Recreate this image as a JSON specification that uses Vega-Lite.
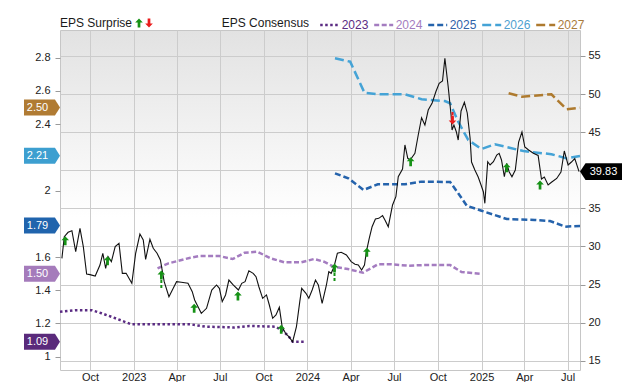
{
  "$schema": "https://vega.github.io/schema/vega-lite/v6.json",
  "width": 520,
  "height": 340,
  "autosize": "none",
  "padding": {"left": 60, "top": 30, "right": 60, "bottom": 12},
  "background": "#ffffff",
  "config": {
    "font": "Liberation Sans",
    "view": {
      "stroke": "#c6c6c6",
      "strokeWidth": 1,
      "fill": {"gradient": "linear", "x1": 0, "y1": 0, "x2": 0, "y2": 1,
        "stops": [{"offset": 0, "color": "#e2e2e2"}, {"offset": 0.55, "color": "#ffffff"}, {"offset": 1, "color": "#ffffff"}]}
    },
    "axis": {"labelFont": "Liberation Sans", "labelFontSize": 11, "labelColor": "#222222", "title": null, "domain": false, "tickColor": "#9a9a9a", "gridColor": "#cccccc", "gridWidth": 1},
    "legend": {"labelFont": "Liberation Sans", "titleFont": "Liberation Sans", "padding": 0, "symbolLimit": 0}
  },
  "datasets": {
    "price": [
      {"date":"2022-08-03","price":28.44},{"date":"2022-08-08","price":31.28},{"date":"2022-08-16","price":31.86},{"date":"2022-08-24","price":32.07},
      {"date":"2022-09-01","price":29.31},{"date":"2022-09-10","price":32.38},{"date":"2022-09-17","price":29.97},{"date":"2022-09-24","price":26.38},
      {"date":"2022-10-01","price":26.30},{"date":"2022-10-12","price":26.12},{"date":"2022-10-22","price":27.56},{"date":"2022-10-28","price":29.10},
      {"date":"2022-11-03","price":27.13},{"date":"2022-11-08","price":28.65},{"date":"2022-11-15","price":28.00},{"date":"2022-11-23","price":29.97},
      {"date":"2022-12-01","price":30.41},{"date":"2022-12-08","price":26.47},{"date":"2022-12-16","price":26.47},{"date":"2022-12-28","price":25.16},
      {"date":"2023-01-05","price":29.10},{"date":"2023-01-14","price":31.63},{"date":"2023-01-21","price":30.85},{"date":"2023-01-26","price":28.31},
      {"date":"2023-02-04","price":30.94},{"date":"2023-02-11","price":29.76},{"date":"2023-02-19","price":29.10},{"date":"2023-02-26","price":28.22},
      {"date":"2023-03-06","price":25.37},{"date":"2023-03-16","price":23.40},{"date":"2023-03-25","price":24.50},{"date":"2023-04-01","price":25.37},
      {"date":"2023-04-11","price":25.29},{"date":"2023-04-25","price":25.16},{"date":"2023-05-04","price":24.06},{"date":"2023-05-09","price":22.97},
      {"date":"2023-05-23","price":21.22},{"date":"2023-06-03","price":21.88},{"date":"2023-06-14","price":24.28},{"date":"2023-06-24","price":24.94},
      {"date":"2023-06-30","price":24.50},{"date":"2023-07-06","price":22.75},{"date":"2023-07-13","price":23.63},{"date":"2023-07-20","price":25.59},
      {"date":"2023-07-29","price":24.94},{"date":"2023-08-09","price":24.28},{"date":"2023-08-16","price":25.16},{"date":"2023-08-23","price":25.37},
      {"date":"2023-08-31","price":26.81},{"date":"2023-09-09","price":26.47},{"date":"2023-09-15","price":26.03},{"date":"2023-09-21","price":24.71},
      {"date":"2023-09-29","price":23.19},{"date":"2023-10-07","price":23.63},{"date":"2023-10-13","price":22.31},{"date":"2023-10-20","price":20.57},
      {"date":"2023-10-27","price":21.00},{"date":"2023-11-03","price":22.01},{"date":"2023-11-09","price":19.46},{"date":"2023-11-16","price":18.60},
      {"date":"2023-11-23","price":18.15},{"date":"2023-12-01","price":17.49},{"date":"2023-12-09","price":19.46},{"date":"2023-12-16","price":22.75},
      {"date":"2023-12-20","price":24.50},{"date":"2023-12-29","price":23.85},{"date":"2024-01-04","price":23.19},{"date":"2024-01-11","price":24.28},
      {"date":"2024-01-18","price":25.59},{"date":"2024-01-24","price":24.94},{"date":"2024-02-01","price":22.54},{"date":"2024-02-10","price":24.94},
      {"date":"2024-02-15","price":26.68},{"date":"2024-02-20","price":26.47},{"date":"2024-02-26","price":27.34},{"date":"2024-03-04","price":29.10},
      {"date":"2024-03-12","price":29.23},{"date":"2024-03-23","price":28.88},{"date":"2024-04-02","price":28.00},{"date":"2024-04-10","price":27.66},
      {"date":"2024-04-17","price":27.56},{"date":"2024-04-24","price":26.91},{"date":"2024-04-30","price":27.56},{"date":"2024-05-04","price":29.31},
      {"date":"2024-05-10","price":31.07},{"date":"2024-05-16","price":32.59},{"date":"2024-05-23","price":33.60},{"date":"2024-05-30","price":33.69},
      {"date":"2024-06-07","price":34.04},{"date":"2024-06-12","price":33.47},{"date":"2024-06-19","price":32.59},{"date":"2024-06-28","price":35.44},
      {"date":"2024-07-05","price":36.53},{"date":"2024-07-10","price":39.15},{"date":"2024-07-19","price":40.17},{"date":"2024-07-24","price":43.32},
      {"date":"2024-07-30","price":41.57},{"date":"2024-08-04","price":41.35},{"date":"2024-08-14","price":42.23},{"date":"2024-08-21","price":44.63},
      {"date":"2024-08-28","price":46.90},{"date":"2024-09-04","price":45.94},{"date":"2024-09-11","price":47.91},{"date":"2024-09-19","price":48.79},
      {"date":"2024-09-27","price":50.31},{"date":"2024-10-04","price":51.42},{"date":"2024-10-11","price":51.72},{"date":"2024-10-16","price":54.70},
      {"date":"2024-10-23","price":50.93},{"date":"2024-10-29","price":47.25},{"date":"2024-10-31","price":45.29},{"date":"2024-11-04","price":45.94},
      {"date":"2024-11-09","price":45.06},{"date":"2024-11-13","price":43.97},{"date":"2024-11-19","price":47.78},{"date":"2024-11-26","price":48.92},
      {"date":"2024-12-02","price":47.52},{"date":"2024-12-08","price":44.20},{"date":"2024-12-11","price":41.08},{"date":"2024-12-18","price":40.03},
      {"date":"2024-12-25","price":39.12},{"date":"2024-12-31","price":38.07},{"date":"2025-01-05","price":37.15},{"date":"2025-01-08","price":35.66},
      {"date":"2025-01-14","price":41.12},{"date":"2025-01-19","price":40.69},{"date":"2025-01-26","price":41.12},{"date":"2025-02-02","price":42.00},
      {"date":"2025-02-07","price":42.23},{"date":"2025-02-12","price":41.35},{"date":"2025-02-18","price":39.15},{"date":"2025-02-23","price":40.91},
      {"date":"2025-02-28","price":39.81},{"date":"2025-03-06","price":39.15},{"date":"2025-03-13","price":40.03},{"date":"2025-03-20","price":43.71},
      {"date":"2025-03-27","price":45.02},{"date":"2025-04-02","price":43.05},{"date":"2025-04-10","price":42.66},{"date":"2025-04-20","price":42.23},
      {"date":"2025-04-30","price":41.94},{"date":"2025-05-07","price":38.85},{"date":"2025-05-13","price":39.12},{"date":"2025-05-21","price":38.07},
      {"date":"2025-05-28","price":38.42},{"date":"2025-06-08","price":38.92},{"date":"2025-06-17","price":39.77},{"date":"2025-06-24","price":42.53},
      {"date":"2025-07-02","price":40.69},{"date":"2025-07-09","price":41.08},{"date":"2025-07-16","price":41.54},{"date":"2025-07-25","price":39.83}
    ],
    "consensus": [
      {"date":"2022-07-30","year":"2023","eps":1.27},{"date":"2022-09-01","year":"2023","eps":1.28},{"date":"2022-10-05","year":"2023","eps":1.28},
      {"date":"2022-10-25","year":"2023","eps":1.262},{"date":"2022-11-20","year":"2023","eps":1.235},{"date":"2022-12-27","year":"2023","eps":1.195},
      {"date":"2023-04-30","year":"2023","eps":1.195},{"date":"2023-06-01","year":"2023","eps":1.181},{"date":"2023-08-01","year":"2023","eps":1.176},
      {"date":"2023-09-01","year":"2023","eps":1.185},{"date":"2023-10-25","year":"2023","eps":1.181},{"date":"2023-11-08","year":"2023","eps":1.161},
      {"date":"2023-11-22","year":"2023","eps":1.125},{"date":"2023-12-01","year":"2023","eps":1.09},{"date":"2023-12-28","year":"2023","eps":1.09},
      {"date":"2023-02-20","year":"2024","eps":1.532},{"date":"2023-03-15","year":"2024","eps":1.562},{"date":"2023-04-30","year":"2024","eps":1.596},
      {"date":"2023-05-20","year":"2024","eps":1.606},{"date":"2023-06-30","year":"2024","eps":1.606},{"date":"2023-07-28","year":"2024","eps":1.588},
      {"date":"2023-08-22","year":"2024","eps":1.626},{"date":"2023-09-18","year":"2024","eps":1.632},{"date":"2023-10-16","year":"2024","eps":1.592},
      {"date":"2023-11-14","year":"2024","eps":1.568},{"date":"2023-12-18","year":"2024","eps":1.568},{"date":"2024-01-15","year":"2024","eps":1.588},
      {"date":"2024-02-05","year":"2024","eps":1.572},{"date":"2024-02-25","year":"2024","eps":1.542},{"date":"2024-03-26","year":"2024","eps":1.528},
      {"date":"2024-04-27","year":"2024","eps":1.506},{"date":"2024-05-28","year":"2024","eps":1.556},{"date":"2024-06-26","year":"2024","eps":1.556},
      {"date":"2024-08-01","year":"2024","eps":1.548},{"date":"2024-09-04","year":"2024","eps":1.552},{"date":"2024-10-27","year":"2024","eps":1.552},
      {"date":"2024-11-20","year":"2024","eps":1.51},{"date":"2024-12-28","year":"2024","eps":1.50},
      {"date":"2024-02-28","year":"2025","eps":2.104},{"date":"2024-03-27","year":"2025","eps":2.074},{"date":"2024-04-28","year":"2025","eps":2.004},
      {"date":"2024-05-28","year":"2025","eps":2.038},{"date":"2024-07-24","year":"2025","eps":2.038},{"date":"2024-08-28","year":"2025","eps":2.054},
      {"date":"2024-10-27","year":"2025","eps":2.052},{"date":"2024-11-13","year":"2025","eps":1.984},{"date":"2024-12-01","year":"2025","eps":1.909},
      {"date":"2025-01-01","year":"2025","eps":1.879},{"date":"2025-02-23","year":"2025","eps":1.829},{"date":"2025-04-23","year":"2025","eps":1.823},
      {"date":"2025-05-25","year":"2025","eps":1.817},{"date":"2025-06-26","year":"2025","eps":1.783},{"date":"2025-07-27","year":"2025","eps":1.787},
      {"date":"2024-02-28","year":"2026","eps":2.797},{"date":"2024-03-31","year":"2026","eps":2.776},{"date":"2024-04-30","year":"2026","eps":2.589},
      {"date":"2024-05-28","year":"2026","eps":2.58},{"date":"2024-07-24","year":"2026","eps":2.58},{"date":"2024-08-28","year":"2026","eps":2.55},
      {"date":"2024-10-16","year":"2026","eps":2.539},{"date":"2024-10-27","year":"2026","eps":2.526},{"date":"2024-11-13","year":"2026","eps":2.415},
      {"date":"2024-12-04","year":"2026","eps":2.305},{"date":"2025-01-01","year":"2026","eps":2.25},{"date":"2025-01-29","year":"2026","eps":2.279},
      {"date":"2025-03-30","year":"2026","eps":2.238},{"date":"2025-05-28","year":"2026","eps":2.219},{"date":"2025-06-29","year":"2026","eps":2.194},
      {"date":"2025-07-27","year":"2026","eps":2.208},
      {"date":"2025-02-27","year":"2027","eps":2.586},{"date":"2025-03-27","year":"2027","eps":2.565},{"date":"2025-05-28","year":"2027","eps":2.58},
      {"date":"2025-06-29","year":"2027","eps":2.489},{"date":"2025-07-27","year":"2027","eps":2.499}
    ],
    "surprise": [
      {"date":"2022-08-10","price":30.75,"dir":"up"},
      {"date":"2022-11-07","price":28.13,"dir":"up"},
      {"date":"2023-02-28","price":26.25,"dir":"up","low":24.37},
      {"date":"2023-05-08","price":21.88,"dir":"up"},
      {"date":"2023-08-08","price":23.49,"dir":"up"},
      {"date":"2023-11-07","price":19.12,"dir":"up"},
      {"date":"2024-02-27","price":27.17,"dir":"up","low":25.29},
      {"date":"2024-05-05","price":29.23,"dir":"up"},
      {"date":"2024-08-05","price":41.12,"dir":"up"},
      {"date":"2024-11-01","price":46.6,"dir":"down","low":47.65},
      {"date":"2025-02-23","price":40.34,"dir":"up"},
      {"date":"2025-05-04","price":38.07,"dir":"up"}
    ],
    "badges": [
      {"year":"2027","eps":2.50,"label":"2.50"},
      {"year":"2026","eps":2.21,"label":"2.21"},
      {"year":"2025","eps":1.79,"label":"1.79"},
      {"year":"2024","eps":1.50,"label":"1.50"},
      {"year":"2023","eps":1.09,"label":"1.09"}
    ],
    "last": [{"price":39.83,"label":"39.83","series":"Price ($)"}]
  },
  "encoding": {
    "x": {
      "field": "date", "type": "temporal",
      "scale": {"domain": [{"year": 2022, "month": 7, "date": 30}, {"year": 2025, "month": 7, "date": 27}]},
      "axis": {
        "tickCount": {"interval": "month", "step": 3},
        "labelExpr": "month(datum.value) == 0 ? timeFormat(datum.value, '%Y') : timeFormat(datum.value, '%b')",
        "grid": true, "tickSize": 0, "labelPadding": 1, "labelFlush": false, "labelOverlap": false
      }
    }
  },
  "layer": [
    {
      "layer": [
        {
          "data": {"name": "consensus"},
          "mark": {"type": "line", "strokeWidth": 2.5},
          "encoding": {
            "y": {
              "field": "eps", "type": "quantitative",
              "scale": {"domain": [0.92, 2.9668], "nice": false, "zero": false},
              "axis": {"orient": "left", "values": [1, 1.2, 1.4, 1.6, 2, 2.4, 2.6, 2.8], "format": "~g", "grid": false, "tickSize": 5, "labelPadding": 5}
            },
            "color": {
              "field": "year", "type": "nominal",
              "scale": {"domain": ["2023", "2024", "2025", "2026", "2027"], "range": ["#5b2c83", "#a47cc0", "#2563ac", "#45a3d6", "#ae7a2e"]},
              "legend": {
                "orient": "none", "legendX": 161.7, "legendY": -16, "direction": "horizontal",
                "title": "EPS Consensus", "titleOrient": "left", "titleFontSize": 12, "titleFontWeight": "normal", "titleColor": "#1a1a1a", "titlePadding": 9,
                "symbolType": "stroke", "symbolSize": 361, "symbolStrokeWidth": 2.5,
                "symbolDash": {"expr": "datum.value == '2023' ? [2.5, 2.5] : datum.value == '2024' ? [5, 2.5] : datum.value == '2025' ? [6, 3] : [9, 4]"},
                "labelFontSize": 12, "labelOffset": 1, "columnPadding": 0,
                "labelColor": {"expr": "datum.value == '2023' ? '#5b2c83' : datum.value == '2024' ? '#a47cc0' : datum.value == '2025' ? '#2f62a8' : datum.value == '2026' ? '#4f9fd0' : '#a97c3c'"}
              }
            },
            "strokeDash": {
              "field": "year", "type": "nominal",
              "scale": {"domain": ["2023", "2024", "2025", "2026", "2027"], "range": [[2.5, 2.5], [5, 2.5], [6, 3], [9, 4], [9, 4]]},
              "legend": null
            }
          }
        },
        {
          "data": {"name": "badges"},
          "mark": {"type": "point", "filled": true, "opacity": 1, "size": 324, "strokeWidth": 0, "clip": false,
            "shape": "M0,0L-0.56,-0.89L-4,-0.89L-4,0.89L-0.56,0.89Z"},
          "encoding": {
            "x": {"value": 0},
            "y": {"field": "eps", "type": "quantitative"},
            "fill": {"field": "year", "type": "nominal", "legend": null,
              "scale": {"domain": ["2023", "2024", "2025", "2026", "2027"], "range": ["#5a2a7b", "#a57bbb", "#2064ad", "#3d9fd0", "#b07b33"]}}
          }
        },
        {
          "data": {"name": "badges"},
          "mark": {"type": "text", "color": "#ffffff", "fontSize": 11, "align": "center", "baseline": "middle", "dx": -22.5, "dy": 0.5, "clip": false},
          "encoding": {
            "x": {"value": 0},
            "y": {"field": "eps", "type": "quantitative"},
            "text": {"field": "label"}
          }
        }
      ]
    },
    {
      "layer": [
        {
          "data": {"name": "price"},
          "mark": {"type": "line", "strokeWidth": 1.1, "color": "#111111"},
          "encoding": {
            "y": {
              "field": "price", "type": "quantitative",
              "scale": {"domain": [13.779, 58.413], "nice": false, "zero": false},
              "axis": {"orient": "right", "values": [15, 20, 25, 30, 35, 40, 45, 50, 55], "labelExpr": "datum.value == 40 ? '' : datum.label", "grid": true, "tickSize": 5, "labelPadding": 3}
            }
          }
        },
        {
          "data": {"name": "last"},
          "mark": {"type": "rule", "strokeWidth": 3, "clip": true},
          "encoding": {
            "y": {"datum": 100, "type": "quantitative"},
            "stroke": {
              "field": "series", "type": "nominal",
              "scale": {"range": ["#666666"]},
              "legend": {"orient": "none", "legendX": 445, "legendY": -1, "title": null, "symbolType": "stroke", "symbolSize": 400, "symbolStrokeWidth": 3, "labelFontSize": 10, "labelOffset": 6, "labelColor": "#111111"}
            }
          }
        },
        {
          "data": {"name": "surprise"},
          "transform": [{"filter": "isValid(datum.low)"}],
          "mark": {"type": "rule", "strokeWidth": 2, "strokeDash": [3, 2]},
          "encoding": {
            "y": {"field": "price", "type": "quantitative"},
            "y2": {"field": "low"},
            "stroke": {"condition": {"test": "datum.dir == 'down'", "value": "#ea1b1b"}, "value": "#169216"}
          }
        },
        {
          "data": {"name": "surprise"},
          "mark": {"type": "point", "filled": true, "opacity": 1, "size": 81, "strokeWidth": 0},
          "encoding": {
            "y": {"field": "price", "type": "quantitative"},
            "shape": {
              "field": "dir", "type": "nominal",
              "scale": {"domain": ["up", "down"], "range": ["M0,-1L0.85,-0.1L0.3,-0.1L0.3,1L-0.3,1L-0.3,-0.1L-0.85,-0.1Z", "M0,1L0.85,0.1L0.3,0.1L0.3,-1L-0.3,-1L-0.3,0.1L-0.85,0.1Z"]},
              "legend": null
            },
            "color": {
              "field": "dir", "type": "nominal",
              "scale": {"domain": ["up", "down"], "range": ["#169216", "#ea1b1b"]},
              "legend": {"orient": "none", "legendX": 0, "legendY": -12, "direction": "horizontal", "title": "EPS Surprise", "titleOrient": "left", "titleFontSize": 12, "titleFontWeight": "normal", "titleColor": "#1a1a1a", "titlePadding": 1, "labelExpr": "''", "labelOffset": 0, "columnPadding": 0, "symbolSize": 81, "symbolStrokeWidth": 0,
                "symbolType": {"expr": "datum.value == 'up' ? 'M0,-1L0.85,-0.1L0.3,-0.1L0.3,1L-0.3,1L-0.3,-0.1L-0.85,-0.1Z' : 'M0,1L0.85,0.1L0.3,0.1L0.3,-1L-0.3,-1L-0.3,0.1L-0.85,0.1Z'"}}
            }
          }
        },
        {
          "data": {"name": "last"},
          "mark": {"type": "point", "filled": true, "opacity": 1, "size": 420, "strokeWidth": 0, "clip": false, "color": "#000000",
            "shape": "M0,0L0.54,-0.82L4.1,-0.82L4.1,0.82L0.54,0.82Z"},
          "encoding": {
            "x": {"value": "width"},
            "y": {"field": "price", "type": "quantitative"}
          }
        },
        {
          "data": {"name": "last"},
          "mark": {"type": "text", "color": "#ffffff", "fontSize": 11, "align": "center", "baseline": "middle", "dx": 23.5, "dy": 0.5, "clip": false},
          "encoding": {
            "x": {"value": "width"},
            "y": {"field": "price", "type": "quantitative"},
            "text": {"field": "label"}
          }
        }
      ]
    }
  ],
  "resolve": {"scale": {"y": "independent", "color": "independent"}, "axis": {"y": "independent"}}
}
